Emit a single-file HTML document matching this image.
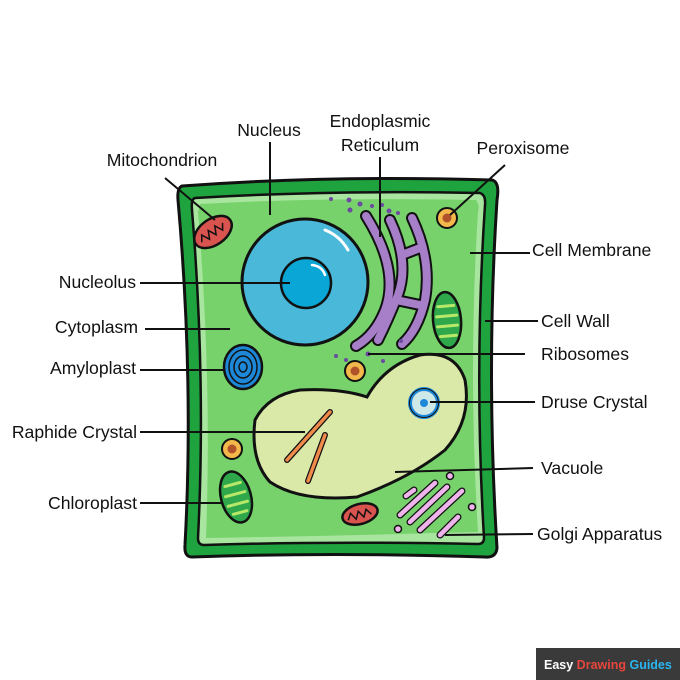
<!DOCTYPE html>
<html><head><meta charset="utf-8"><style>
html,body{margin:0;padding:0;background:#fff;width:680px;height:680px;overflow:hidden}
svg text{font-family:"Liberation Sans",sans-serif;font-size:17.6px;fill:#111}
</style></head><body>
<svg width="680" height="680" viewBox="0 0 680 680" xmlns="http://www.w3.org/2000/svg">
<!-- cell wall -->
<path d="M182,186 Q330,175 492,180 Q500,182 497,200 Q486,370 497,548 Q496,558 485,557 Q330,552 192,557 Q184,557 185,545 Q194,380 178,200 Q177,188 182,186 Z" fill="#1fa33e" stroke="#111" stroke-width="3"/>
<path d="M195,198 Q330,190 480,193 Q486,195 485,205 Q474,370 484,538 Q484,544 478,544 Q330,541 204,545 Q198,545 198,538 Q206,380 192,210 Q191,199 195,198 Z" fill="#a8e6a0" stroke="#111" stroke-width="2.5"/>
<path d="M200,204 Q330,197 476,200 Q480,205 478,212 Q468,370 478,532 Q330,536 206,538 Q212,380 198,212 Z" fill="#78d26c"/>
<!-- mitochondria -->
<g transform="rotate(-35 213 232)"><ellipse cx="213" cy="232" rx="21" ry="13" fill="#d9534f" stroke="#111" stroke-width="2.5"/>
<path d="M198,234 l4,-6 l4,8 l4,-8 l4,8 l4,-8 l4,8 l4,-6" fill="none" stroke="#111" stroke-width="1.5"/></g>
<g transform="rotate(-15 360 514)"><ellipse cx="360" cy="514" rx="18" ry="10" fill="#d9534f" stroke="#111" stroke-width="2.5"/>
<path d="M347,517 l4,-6 l4,7 l4,-7 l4,7 l4,-7 l4,6" fill="none" stroke="#111" stroke-width="1.5"/></g>
<!-- nucleus -->
<circle cx="305" cy="282" r="63" fill="#4ab8d8" stroke="#111" stroke-width="3"/>
<path d="M325,230 Q340,236 348,250" fill="none" stroke="#fff" stroke-width="3" stroke-linecap="round"/>
<circle cx="306" cy="283" r="25" fill="#0aa6d6" stroke="#111" stroke-width="2.5"/>
<path d="M312,265 Q322,266 325,275" fill="none" stroke="#fff" stroke-width="2.5" stroke-linecap="round"/>
<!-- ER -->
<g fill="none" stroke-linecap="round" stroke-linejoin="round">
<g stroke="#111" stroke-width="12">
<path d="M366,216 Q400,270 385,310 Q375,335 356,346"/>
<path d="M390,220 Q410,262 398,295 Q388,320 378,340"/>
<path d="M412,218 Q432,260 425,300 Q418,330 402,344"/>
<path d="M402,255 L420,248 M396,300 L420,305"/>
</g>
<g stroke="#a77ec8" stroke-width="8">
<path d="M366,216 Q400,270 385,310 Q375,335 356,346"/>
<path d="M390,220 Q410,262 398,295 Q388,320 378,340"/>
<path d="M412,218 Q432,260 425,300 Q418,330 402,344"/>
<path d="M402,255 L420,248 M396,300 L420,305"/>
</g></g>
<g fill="#6b4aa0"><circle cx="331" cy="199" r="2"/><circle cx="349" cy="200" r="2.5"/><circle cx="360" cy="204" r="2.5"/><circle cx="350" cy="210" r="2.5"/><circle cx="372" cy="206" r="2"/><circle cx="382" cy="205" r="2"/><circle cx="389" cy="211" r="2.5"/><circle cx="398" cy="213" r="2"/><circle cx="401" cy="341" r="2"/><circle cx="336" cy="356" r="2"/><circle cx="346" cy="360" r="2"/><circle cx="368" cy="354" r="2.5"/><circle cx="383" cy="361" r="2"/></g>
<!-- peroxisomes -->
<circle cx="447" cy="218" r="10" fill="#f2b84b" stroke="#111" stroke-width="2"/><circle cx="447" cy="218" r="4.5" fill="#b0522a"/>
<circle cx="355" cy="371" r="10" fill="#f2b84b" stroke="#111" stroke-width="2"/><circle cx="355" cy="371" r="4.5" fill="#b0522a"/>
<circle cx="232" cy="449" r="10" fill="#f2b84b" stroke="#111" stroke-width="2"/><circle cx="232" cy="449" r="4.5" fill="#b0522a"/>
<!-- chloroplasts -->
<g transform="rotate(-5 447 320)"><ellipse cx="447" cy="320" rx="14" ry="28" fill="#2ea84a" stroke="#111" stroke-width="2.5"/>
<g stroke="#b7e86a" stroke-width="3" stroke-linecap="round"><line x1="439" y1="306" x2="455" y2="306"/><line x1="437" y1="316" x2="457" y2="316"/><line x1="437" y1="326" x2="457" y2="326"/><line x1="439" y1="336" x2="455" y2="336"/></g></g>
<g transform="rotate(-15 236 497)"><ellipse cx="236" cy="497" rx="15" ry="26" fill="#2ea84a" stroke="#111" stroke-width="2.5"/>
<g stroke="#b7e86a" stroke-width="3" stroke-linecap="round"><line x1="228" y1="484" x2="244" y2="484"/><line x1="226" y1="494" x2="246" y2="494"/><line x1="226" y1="504" x2="246" y2="504"/><line x1="229" y1="513" x2="243" y2="513"/></g></g>
<!-- amyloplast -->
<ellipse cx="243" cy="367" rx="19" ry="22" fill="#1e88d8" stroke="#111" stroke-width="2.5"/>
<g fill="none" stroke="#111" stroke-width="1.5"><ellipse cx="243" cy="367" rx="14" ry="17"/><ellipse cx="243" cy="367" rx="9" ry="11"/><ellipse cx="243" cy="367" rx="4" ry="5"/></g>
<!-- vacuole -->
<path d="M367,397 Q385,365 420,355 Q455,350 465,380 Q472,420 445,450 Q410,478 357,497 Q300,502 270,482 Q250,460 255,420 Q268,395 300,390 Q340,388 367,397 Z" fill="#dbe9a8" stroke="#111" stroke-width="3"/>
<circle cx="424" cy="403" r="14" fill="#cfe9e8" stroke="#1e88d8" stroke-width="4"/><circle cx="424" cy="403" r="14.5" fill="none" stroke="#111" stroke-width="1"/>
<circle cx="424" cy="403" r="4" fill="#1e88d8"/>
<g stroke="#111" stroke-width="6" stroke-linecap="round"><line x1="330" y1="412" x2="287" y2="460"/><line x1="325" y1="435" x2="308" y2="481"/></g>
<g stroke="#f08a4b" stroke-width="3.5" stroke-linecap="round"><line x1="330" y1="412" x2="287" y2="460"/><line x1="325" y1="435" x2="308" y2="481"/></g>
<!-- golgi -->
<g stroke="#111" stroke-width="7" stroke-linecap="round"><line x1="435" y1="483" x2="400" y2="515"/><line x1="447" y1="487" x2="410" y2="522"/><line x1="462" y1="491" x2="420" y2="530"/><line x1="458" y1="517" x2="440" y2="535"/><line x1="414" y1="490" x2="406" y2="496"/></g>
<g stroke="#f0b4ec" stroke-width="4.5" stroke-linecap="round"><line x1="435" y1="483" x2="400" y2="515"/><line x1="447" y1="487" x2="410" y2="522"/><line x1="462" y1="491" x2="420" y2="530"/><line x1="458" y1="517" x2="440" y2="535"/><line x1="414" y1="490" x2="406" y2="496"/></g>
<g fill="#f0b4ec" stroke="#111" stroke-width="1.5"><circle cx="450" cy="476" r="3.5"/><circle cx="472" cy="507" r="3.5"/><circle cx="398" cy="529" r="3.5"/></g>
<!-- leader lines -->
<g stroke="#111" stroke-width="2">
<line x1="270" y1="142" x2="270" y2="215"/>
<line x1="165" y1="178" x2="215" y2="220"/>
<line x1="380" y1="157" x2="380" y2="237"/>
<line x1="505" y1="165" x2="450" y2="215"/>
<line x1="530" y1="253" x2="470" y2="253"/>
<line x1="538" y1="321" x2="485" y2="321"/>
<line x1="525" y1="354" x2="368" y2="354"/>
<line x1="535" y1="402" x2="430" y2="402"/>
<line x1="533" y1="468" x2="395" y2="472"/>
<line x1="533" y1="534" x2="445" y2="535"/>
<line x1="140" y1="283" x2="290" y2="283"/>
<line x1="145" y1="329" x2="230" y2="329"/>
<line x1="140" y1="370" x2="223" y2="370"/>
<line x1="140" y1="432" x2="305" y2="432"/>
<line x1="140" y1="503" x2="222" y2="503"/>
</g>
<!-- labels -->
<g text-anchor="middle">
<text x="269" y="136">Nucleus</text>
<text x="162" y="166">Mitochondrion</text>
<text x="380" y="127">Endoplasmic</text>
<text x="380" y="151">Reticulum</text>
<text x="523" y="154">Peroxisome</text>
</g>
<text x="532" y="256">Cell Membrane</text>
<text x="541" y="327">Cell Wall</text>
<text x="541" y="360">Ribosomes</text>
<text x="541" y="408">Druse Crystal</text>
<text x="541" y="474">Vacuole</text>
<text x="537" y="540">Golgi Apparatus</text>
<g text-anchor="end">
<text x="136" y="288">Nucleolus</text>
<text x="138" y="333">Cytoplasm</text>
<text x="136" y="374">Amyloplast</text>
<text x="137" y="438">Raphide Crystal</text>
<text x="137" y="509">Chloroplast</text>
</g>
<!-- logo -->
<rect x="536" y="648" width="144" height="32" fill="#3a3a3a"/>
<text x="544" y="669" style="font-size:12.5px;font-weight:bold;fill:#fff">Easy <tspan style="fill:#e8453c">Drawing</tspan> <tspan style="fill:#29b6f0">Guides</tspan></text>
</svg>
</body></html>
